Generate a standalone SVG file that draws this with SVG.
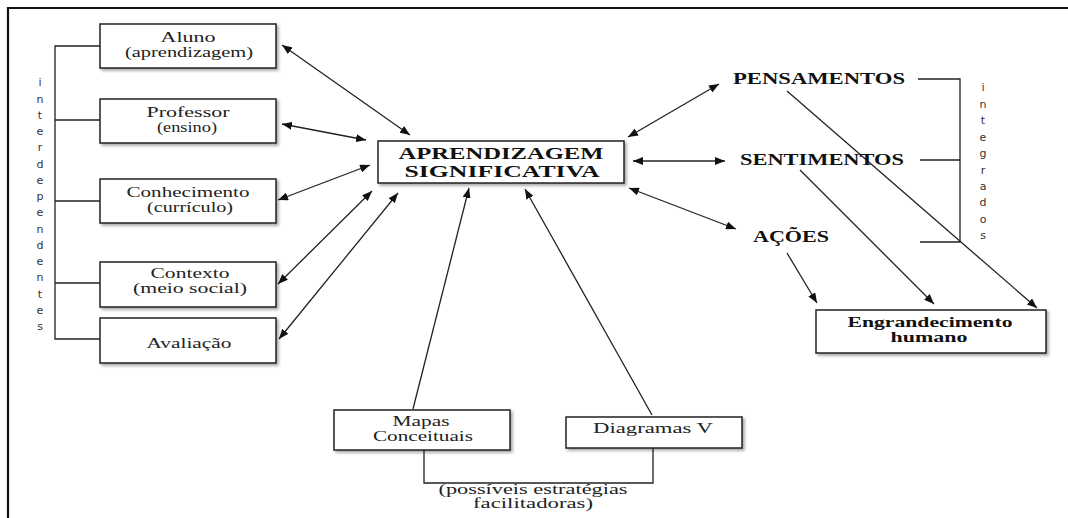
<svg xmlns="http://www.w3.org/2000/svg" width="1068" height="518" viewBox="0 0 1068 518">
<style>
.box{fill:#fff;stroke:#222;stroke-width:1.5;filter:url(#sh)}
text.t{font-family:"Times New Roman",Times,"Liberation Serif",Tinos,"Nimbus Roman","DejaVu Serif",serif;font-size:14px;fill:#222;text-anchor:middle}
text.b{font-family:"Times New Roman",Times,"Liberation Serif",Tinos,"Nimbus Roman","DejaVu Serif",serif;font-weight:bold;fill:#111;text-anchor:middle}
text.v{font-family:"DejaVu Sans",Verdana,sans-serif;font-size:11px;fill:#333;text-anchor:middle}
.ln{stroke:#222;stroke-width:1.3;fill:none}
.ar{stroke:#222;stroke-width:1.3;fill:none;marker-end:url(#ah)}
.ar2{stroke:#222;stroke-width:1.3;fill:none;marker-end:url(#ah);marker-start:url(#ahs)}
</style>
<defs>
<filter id="sh" x="-10%" y="-20%" width="130%" height="150%">
<feDropShadow dx="2" dy="2" stdDeviation="1.5" flood-color="#000" flood-opacity="0.35"/>
</filter>
<marker id="ah" viewBox="0 0 10 8" refX="10" refY="4" markerWidth="10" markerHeight="8" markerUnits="userSpaceOnUse" orient="auto">
<path d="M0,0 L10,4 L0,8 Z" fill="#111"/>
</marker>
<marker id="ahs" viewBox="0 0 10 8" refX="0" refY="4" markerWidth="10" markerHeight="8" markerUnits="userSpaceOnUse" orient="auto">
<path d="M10,0 L0,4 L10,8 Z" fill="#111"/>
</marker>
</defs>
<rect width="1068" height="518" fill="#fff"/>
<path d="M8,518 V8 H1068" fill="none" stroke="#111" stroke-width="2.2"/>

<g id="connectors">
<path class="ln" d="M100,46 H55 V339 H100 M55,120 H100 M55,201 H100 M55,283 H100"/>
<path class="ln" d="M918,79 H960 V242 H920 M920,160 H960"/>
<path class="ln" d="M424,450 V483 H653 V448"/>
<line class="ar2" x1="282" y1="45" x2="410" y2="135"/>
<line class="ar2" x1="282" y1="124" x2="366" y2="140"/>
<line class="ar2" x1="278" y1="200" x2="370" y2="165"/>
<line class="ar2" x1="278" y1="284" x2="372" y2="191"/>
<line class="ar2" x1="279" y1="339" x2="398" y2="193"/>
<line class="ar" x1="413" y1="409" x2="469" y2="188"/>
<line class="ar" x1="652" y1="415" x2="525" y2="189"/>
<line class="ar2" x1="628" y1="137" x2="719" y2="84"/>
<line class="ar2" x1="633" y1="161" x2="725" y2="161"/>
<line class="ar2" x1="629" y1="188" x2="736" y2="229"/>
<line class="ar" x1="787" y1="91" x2="1037" y2="308"/>
<line class="ar" x1="800" y1="170" x2="934" y2="304"/>
<line class="ar" x1="787" y1="253" x2="817" y2="303"/>
</g>

<g id="interdependentes">
<text class="v" x="40" y="86">i</text>
<text class="v" x="40" y="103">n</text>
<text class="v" x="40" y="119">t</text>
<text class="v" x="40" y="135">e</text>
<text class="v" x="40" y="151">r</text>
<text class="v" x="40" y="168">d</text>
<text class="v" x="40" y="184">e</text>
<text class="v" x="40" y="200">p</text>
<text class="v" x="40" y="216">e</text>
<text class="v" x="40" y="233">n</text>
<text class="v" x="40" y="249">d</text>
<text class="v" x="40" y="265">e</text>
<text class="v" x="40" y="281">n</text>
<text class="v" x="40" y="298">t</text>
<text class="v" x="40" y="314">e</text>
<text class="v" x="40" y="330">s</text>
</g>

<g id="integrados">
<text class="v" x="983" y="91">i</text>
<text class="v" x="983" y="108">n</text>
<text class="v" x="983" y="124">t</text>
<text class="v" x="983" y="141">e</text>
<text class="v" x="983" y="157">g</text>
<text class="v" x="983" y="174">r</text>
<text class="v" x="983" y="190">a</text>
<text class="v" x="983" y="206">d</text>
<text class="v" x="983" y="223">o</text>
<text class="v" x="983" y="239">s</text>
</g>

<g id="aluno">
<rect class="box" x="100" y="24" width="176" height="44"/>
<text class="t" x="188" y="42" textLength="55" lengthAdjust="spacingAndGlyphs">Aluno</text>
<text class="t" x="189" y="57" textLength="128" lengthAdjust="spacingAndGlyphs">(aprendizagem)</text>
</g>
<g id="professor">
<rect class="box" x="100" y="99" width="176" height="44"/>
<text class="t" x="188" y="117" textLength="83" lengthAdjust="spacingAndGlyphs">Professor</text>
<text class="t" x="187" y="132" textLength="60" lengthAdjust="spacingAndGlyphs">(ensino)</text>
</g>
<g id="conhecimento">
<rect class="box" x="100" y="179" width="176" height="44"/>
<text class="t" x="188" y="197" textLength="123" lengthAdjust="spacingAndGlyphs">Conhecimento</text>
<text class="t" x="190" y="212" textLength="86" lengthAdjust="spacingAndGlyphs">(currículo)</text>
</g>
<g id="contexto">
<rect class="box" x="100" y="262" width="176" height="45"/>
<text class="t" x="190" y="278" textLength="79" lengthAdjust="spacingAndGlyphs">Contexto</text>
<text class="t" x="190" y="293" textLength="114" lengthAdjust="spacingAndGlyphs">(meio  social)</text>
</g>
<g id="avaliacao">
<rect class="box" x="100" y="318" width="176" height="45"/>
<text class="t" x="189" y="348" textLength="85" lengthAdjust="spacingAndGlyphs">Avaliação</text>
</g>

<g id="aprendizagem-significativa">
<rect class="box" x="378" y="141" width="246" height="42"/>
<text class="b" x="501" y="159" font-size="17" textLength="205" lengthAdjust="spacingAndGlyphs">APRENDIZAGEM</text>
<text class="b" x="502" y="177" font-size="17" textLength="195" lengthAdjust="spacingAndGlyphs">SIGNIFICATIVA</text>
</g>

<g id="pensamentos">
<text class="b" x="819" y="84" font-size="16" textLength="172" lengthAdjust="spacingAndGlyphs">PENSAMENTOS</text>
</g>
<g id="sentimentos">
<text class="b" x="822" y="165" font-size="16" textLength="164" lengthAdjust="spacingAndGlyphs">SENTIMENTOS</text>
</g>
<g id="acoes">
<text class="b" x="791" y="242" font-size="16" textLength="76" lengthAdjust="spacingAndGlyphs">AÇÕES</text>
</g>

<g id="engrandecimento">
<rect class="box" x="816" y="310" width="230" height="43"/>
<text class="b" x="930" y="327" font-size="14" textLength="165" lengthAdjust="spacingAndGlyphs">Engrandecimento</text>
<text class="b" x="929" y="342" font-size="14" textLength="77" lengthAdjust="spacingAndGlyphs">humano</text>
</g>

<g id="mapas">
<rect class="box" x="334" y="410" width="176" height="40"/>
<text class="t" x="421" y="426" font-size="13" textLength="57" lengthAdjust="spacingAndGlyphs">Mapas</text>
<text class="t" x="423" y="441" font-size="13" textLength="100" lengthAdjust="spacingAndGlyphs">Conceituais</text>
</g>
<g id="diagramas">
<rect class="box" x="566" y="417" width="176" height="31"/>
<text class="t" x="653" y="433" font-size="13" textLength="120" lengthAdjust="spacingAndGlyphs">Diagramas  V</text>
</g>

<g id="estrategias">
<text class="t" x="533" y="494" font-size="13" textLength="189" lengthAdjust="spacingAndGlyphs">(possíveis estratégias</text>
<text class="t" x="533" y="508" font-size="13" textLength="120" lengthAdjust="spacingAndGlyphs">facilitadoras)</text>
</g>
</svg>
